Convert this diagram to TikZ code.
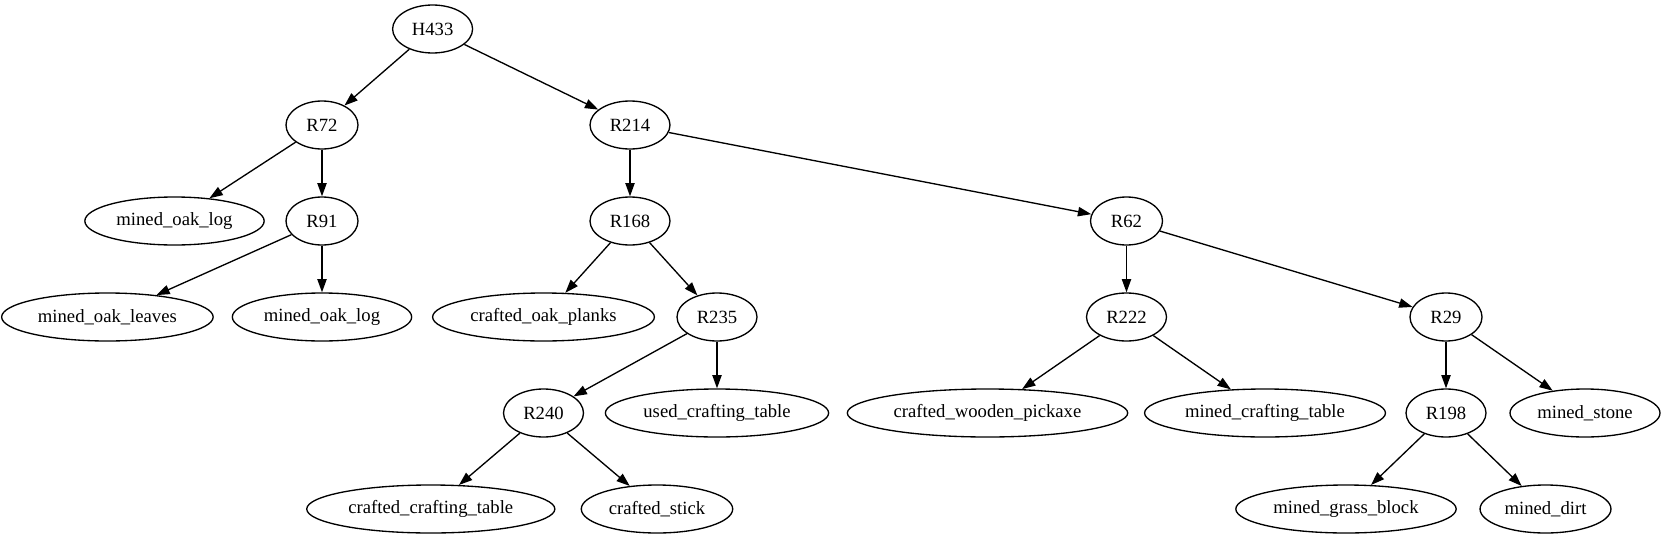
\documentclass[tikz,border=0pt]{standalone}
\usepackage{fontspec}
\setmainfont{Liberation Serif}
\usetikzlibrary{shapes.geometric,arrows.meta}
\tikzset{
	item/.style={ellipse,draw,line width=1pt,inner xsep=4pt,inner ysep=2pt,
	minimum width=54pt,minimum height=36pt,font=\fontsize{14}{16}\selectfont},
	rlong/.style={item,minimum width=60pt},
	link/.style={-{Triangle[length=10pt,width=7pt]},line width=1pt}
}
\begin{document}
\begin{tikzpicture}[x=0.75pt,y=-0.75pt]
	\useasboundingbox (0,0) rectangle (1666,539);
	% rows of the tree
	\node(h433) [rlong] at (432.6,29) {H433};
	\node(r72) [item] at (322,125) {R72};
	\node(r214) [rlong] at (630,125) {R214};
	\node(log1) [item] at (174.5,221) {mined\_oak\_log};
	\node(r91) [item] at (322,221) {R91};
	\node(r168) [rlong] at (630,221) {R168};
	\node(r62) [item] at (1126.5,221) {R62};
	\node(leaves) [item] at (107.4,317) {mined\_oak\_leaves};
	\node(log2) [item] at (322,317) {mined\_oak\_log};
	\node(planks) [item] at (543.5,317) {crafted\_oak\_planks};
	\node(r235) [rlong] at (717,317) {R235};
	\node(r222) [rlong] at (1126.5,317) {R222};
	\node(r29) [item] at (1446,317) {R29};
	\node(r240) [rlong] at (543.5,413) {R240};
	\node(usedtable) [item] at (717,413) {used\_crafting\_table};
	\node(pickaxe) [item] at (987.5,413) {crafted\_wooden\_pickaxe};
	\node(minedtable) [item] at (1265,413) {mined\_crafting\_table};
	\node(r198) [rlong] at (1446,413) {R198};
	\node(stone) [item] at (1585,413) {mined\_stone};
	\node(craftedtable) [item] at (430.8,509) {crafted\_crafting\_table};
	\node(stick) [item] at (657,509) {crafted\_stick};
	\node(grass) [item] at (1346,509) {mined\_grass\_block};
	\node(dirt) [item] at (1545.5,509) {mined\_dirt};
	% edges
	\draw [link] (h433) -- (r72);
	\draw [link] (h433) -- (r214);
	\draw [link] (r72) -- (log1);
	\draw [link] (r72) -- (r91);
	\draw [link] (r91) -- (leaves);
	\draw [link] (r91) -- (log2);
	\draw [link] (r214) -- (r168);
	\draw [link] (r214) -- (r62);
	\draw [link] (r168) -- (planks);
	\draw [link] (r168) -- (r235);
	\draw [link] (r235) -- (r240);
	\draw [link] (r235) -- (usedtable);
	\draw [link] (r240) -- (craftedtable);
	\draw [link] (r240) -- (stick);
	\draw [link] (r62) -- (r222);
	\draw [link] (r62) -- (r29);
	\draw [link] (r222) -- (pickaxe);
	\draw [link] (r222) -- (minedtable);
	\draw [link] (r29) -- (r198);
	\draw [link] (r29) -- (stone);
	\draw [link] (r198) -- (grass);
	\draw [link] (r198) -- (dirt);
\end{tikzpicture}
\end{document}
